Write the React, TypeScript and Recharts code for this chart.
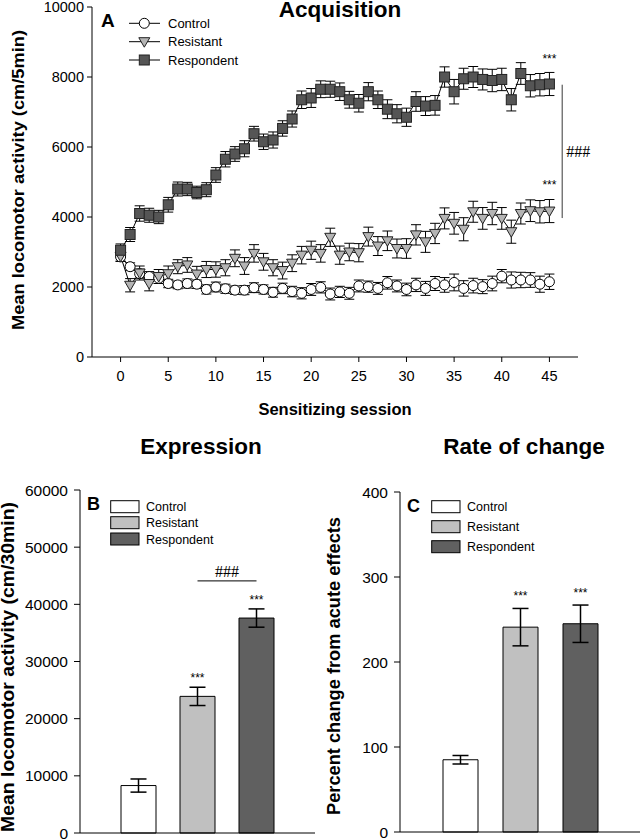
import React from "react";
import {
  Bar,
  BarChart,
  Cell,
  ErrorBar,
  LabelList,
  Line,
  LineChart,
  ReferenceDot,
  ReferenceLine,
  XAxis,
  YAxis,
} from "recharts";

const FONT = "'Liberation Sans', Arial, sans-serif";
const SERIF = "'Liberation Serif', 'Times New Roman', serif";

// ---- panel A: acquisition ----
const sessions = [
  0, 1, 2, 3, 4, 5, 6, 7, 8, 9, 10, 11, 12, 13, 14, 15, 16, 17, 18, 19, 20, 21, 22,
  23, 24, 25, 26, 27, 28, 29, 30, 31, 32, 33, 34, 35, 36, 37, 38, 39, 40, 41, 42,
  43, 44, 45,
];
const controlMean = [
  2860, 2580, 2380, 2300, 2250, 2100, 2060, 2100, 2080, 1930, 2000, 1950, 1910,
  1910, 1980, 1930, 1850, 1960, 1870, 1820, 1930, 1990, 1800, 1860, 1820, 2030,
  2010, 1960, 2120, 2030, 1930, 2060, 1960, 2100, 2060, 2130, 1960, 2040, 2010,
  2100, 2310, 2200, 2200, 2200, 2080, 2150,
];
const controlErr = [
  120, 110, 130, 140, 150, 120, 110, 130, 120, 130, 140, 130, 120, 130, 140, 130,
  140, 150, 150, 160, 170, 160, 170, 160, 170, 170, 160, 170, 180, 170, 180, 190,
  200, 200, 210, 240, 220, 210, 200, 210, 190, 230, 220, 210, 230, 220,
];
const resistantMean = [
  2880, 2050, 2400, 2100, 2300, 2380, 2580, 2630, 2370, 2500, 2500, 2550, 2820,
  2600, 2960, 2720, 2550, 2470, 2680, 2910, 3050, 2960, 3420, 2910, 3000, 2980,
  3440, 3170, 3320, 3100, 3100, 3490, 3290, 3530, 3960, 3820, 3650, 4150, 3960,
  4100, 3960, 3580, 4100, 4180, 4150, 4170,
];
const resistantErr = [
  150, 190, 200, 210, 200, 220, 200, 210, 220, 230, 220, 230, 240, 240, 250, 240,
  230, 240, 240, 250, 260, 250, 260, 260, 250, 260, 270, 270, 280, 270, 280, 290,
  300, 290, 300, 310, 330, 300, 310, 320, 310, 330, 300, 310, 320, 330,
];
const respondentMean = [
  3050, 3500, 4100, 4050, 4000, 4350, 4800, 4800, 4700, 4780, 5200, 5650, 5800,
  5950, 6380, 6150, 6200, 6530, 6800, 7350, 7400, 7650, 7650, 7580, 7350, 7250,
  7580, 7350, 7080, 6950, 6850, 7300, 7170, 7190, 8000, 7580, 7950, 8000, 7930,
  7900, 7930, 7350, 8100, 7750, 7780, 7800,
];
const respondentErr = [
  180, 200, 220, 200, 190, 210, 200, 190, 180, 200, 210, 220, 210, 230, 210, 220,
  230, 220, 230, 250, 270, 240, 230, 250, 240, 250, 260, 250, 270, 260, 260, 280,
  270, 280, 290, 350, 300, 300, 300, 320, 320, 320, 310, 320, 320, 330,
];
const xTicksA = [0, 5, 10, 15, 20, 25, 30, 35, 40, 45];
const yTicksA = [0, 2000, 4000, 6000, 8000, 10000];

// ---- panels B and C ----
const groups = ["Control", "Resistant", "Respondent"];
const groupFills = ["#ffffff", "#c0c0c0", "#606060"];
const expressionMean = [8300, 23900, 37600];
const expressionErr = [1150, 1600, 1600];
const rateMean = [85, 241, 245];
const rateErr = [5, 22, 22];
const groupSig = ["", "***", "***"];
const yTicksB = [0, 10000, 20000, 30000, 40000, 50000, 60000];
const yTicksC = [0, 100, 200, 300, 400];

const acqData = sessions.map((s, i) => ({
  session: s,
  control: controlMean[i],
  controlErr: controlErr[i],
  resistant: resistantMean[i],
  resistantErr: resistantErr[i],
  respondent: respondentMean[i],
  respondentErr: respondentErr[i],
}));
const exprData = groups.map((g, i) => ({ group: g, value: expressionMean[i], err: expressionErr[i] }));
const rateData = groups.map((g, i) => ({ group: g, value: rateMean[i], err: rateErr[i] }));

const circleDot = (p: any) => (
  <circle key={`c${p.index}`} cx={p.cx} cy={p.cy} r={5} fill="#fff" stroke="#000" strokeWidth={1} />
);
const triDot = (p: any) => (
  <polygon
    key={`t${p.index}`}
    points={`${p.cx - 5.5},${p.cy - 4} ${p.cx + 5.5},${p.cy - 4} ${p.cx},${p.cy + 5.5}`}
    fill="#b4b4b4"
    stroke="#222"
    strokeWidth={1}
  />
);
const squareDot = (p: any) => (
  <rect key={`s${p.index}`} x={p.cx - 5} y={p.cy - 5} width={10} height={10} fill="#555" stroke="#222" strokeWidth={1} />
);

const tickA = { fill: "#000", fontSize: 14.5, fontFamily: FONT };
const tickBC = { fill: "#000", fontSize: 15.5, fontFamily: FONT };

const sigLabel = (errs: number[], gap: number) => (p: any) => {
  const { x, y, width, height, value, index } = p;
  if (!groupSig[index]) return null;
  const errPx = (errs[index] / value) * height;
  return (
    <text key={`sig${index}`} x={x + width / 2} y={y - errPx - gap} textAnchor="middle" fontSize={12} fontFamily={FONT} fill="#000">
      {groupSig[index]}
    </text>
  );
};

function BarPanel({ data, errs, ticks, max, gap, pad, top, bottom, right, hash }: any) {
  return (
    <BarChart width={320} height={359} data={data} margin={{ top, right, bottom, left: 30 }}>
      <XAxis dataKey="group" tick={false} tickLine={false} stroke="#000" height={1} padding={{ left: pad, right: pad }} />
      <YAxis
        type="number"
        domain={[0, max]}
        ticks={ticks}
        width={50}
        tickSize={6}
        tickMargin={6}
        stroke="#000"
        tick={tickBC}
        interval={0}
      />
      <Bar dataKey="value" barSize={35} stroke="#000" strokeWidth={1} isAnimationActive={false}>
        {data.map((d: any, i: number) => (
          <Cell key={d.group} fill={groupFills[i]} />
        ))}
        <ErrorBar dataKey="err" width={8} stroke="#000" strokeWidth={1.5} />
        <LabelList content={sigLabel(errs, gap)} />
      </Bar>
      {hash ? (
        <ReferenceLine
          segment={[
            { x: "Resistant", y: hash },
            { x: "Respondent", y: hash },
          ]}
          stroke="#000"
          strokeWidth={1}
          label={{ value: "###", position: "top", fontSize: 16, fontFamily: SERIF, fill: "#000", offset: 4 }}
        />
      ) : null}
    </BarChart>
  );
}

function Legends() {
  const rowsA = [23.3, 41.7, 60];
  const rowsB = [506.7, 522.7, 539];
  const rowsC = [506.7, 526.7, 546.7];
  return (
    <svg width={640} height={839} style={{ position: "absolute", left: 0, top: 0, pointerEvents: "none" }}>
      <g fontFamily={FONT} fill="#000">
        {/* titles */}
        <text x={340} y={17} textAnchor="middle" fontSize={22.5} fontWeight="bold">Acquisition</text>
        <text x={201} y={453.5} textAnchor="middle" fontSize={22.5} fontWeight="bold">Expression</text>
        <text x={524} y={453.5} textAnchor="middle" fontSize={22.5} fontWeight="bold">Rate of change</text>
        {/* panel letters */}
        <text x={101} y={27} fontSize={19} fontWeight="bold">A</text>
        <text x={87} y={510} fontSize={18} fontWeight="bold">B</text>
        <text x={407} y={512} fontSize={18} fontWeight="bold">C</text>
        {/* axis labels */}
        <text x={335} y={415} textAnchor="middle" fontSize={16.5} fontWeight="bold">Sensitizing session</text>
        <text transform="translate(24,180) rotate(-90)" textAnchor="middle" fontSize={17} fontWeight="bold" textLength={300} lengthAdjust="spacingAndGlyphs">
          Mean locomotor activity (cm/5min)
        </text>
        <text transform="translate(14,667) rotate(-90)" textAnchor="middle" fontSize={18} fontWeight="bold" textLength={330} lengthAdjust="spacingAndGlyphs">
          Mean locomotor activity (cm/30min)
        </text>
        <text transform="translate(340,666) rotate(-90)" textAnchor="middle" fontSize={18} fontWeight="bold" textLength={298} lengthAdjust="spacingAndGlyphs">
          Percent change from acute effects
        </text>
        {/* legend A */}
        {groups.map((g, i) => {
          const y = rowsA[i];
          return (
            <g key={g}>
              <line x1={129} x2={160} y1={y} y2={y} stroke="#000" strokeWidth={1} />
              {i === 0 ? circleDot({ cx: 144.3, cy: y, index: 99 }) : i === 1 ? triDot({ cx: 144.3, cy: y, index: 99 }) : squareDot({ cx: 144.3, cy: y, index: 99 })}
              <text x={168} y={y + 4.7} fontSize={13}>{g}</text>
            </g>
          );
        })}
        {/* legend B */}
        {groups.map((g, i) => (
          <g key={`b${g}`}>
            <rect x={110.7} y={rowsB[i] - 6} width={28.3} height={12} fill={groupFills[i]} stroke="#000" strokeWidth={1} />
            <text x={146} y={rowsB[i] + 4.5} fontSize={12.5}>{g}</text>
          </g>
        ))}
        {/* legend C */}
        {groups.map((g, i) => (
          <g key={`c${g}`}>
            <rect x={431.7} y={rowsC[i] - 6} width={28.3} height={12} fill={groupFills[i]} stroke="#000" strokeWidth={1} />
            <text x={467} y={rowsC[i] + 4.5} fontSize={12.5}>{g}</text>
          </g>
        ))}
      </g>
    </svg>
  );
}

export default function App() {
  return (
    <div style={{ position: "absolute", left: 0, top: 0, width: 640, height: 839, background: "#fff", overflow: "hidden" }}>
      <div style={{ position: "absolute", left: 0, top: 0 }}>
        <LineChart width={640} height={420} data={acqData} margin={{ top: 7, right: 62, bottom: 33, left: 32 }}>
          <XAxis
            dataKey="session"
            type="number"
            domain={[-3, 48]}
            ticks={xTicksA}
            tickSize={5}
            tickMargin={9}
            stroke="#000"
            tick={tickA}
            height={30}
            allowDataOverflow
            interval={0}
          />
          <YAxis
            type="number"
            domain={[0, 10000]}
            ticks={yTicksA}
            width={60}
            tickSize={5}
            tickMargin={3}
            stroke="#000"
            tick={tickA}
            interval={0}
          />
          <Line dataKey="control" stroke="#000" strokeWidth={1} dot={circleDot} activeDot={false} isAnimationActive={false}>
            <ErrorBar dataKey="controlErr" width={5} stroke="#000" strokeWidth={1} />
          </Line>
          <Line dataKey="resistant" stroke="#000" strokeWidth={1} dot={triDot} activeDot={false} isAnimationActive={false}>
            <ErrorBar dataKey="resistantErr" width={5} stroke="#000" strokeWidth={1} />
          </Line>
          <Line dataKey="respondent" stroke="#000" strokeWidth={1} dot={squareDot} activeDot={false} isAnimationActive={false}>
            <ErrorBar dataKey="respondentErr" width={5} stroke="#000" strokeWidth={1} />
          </Line>
          <ReferenceLine
            segment={[
              { x: 46.35, y: 3970 },
              { x: 46.35, y: 7780 },
            ]}
            stroke="#777"
            strokeWidth={1.5}
            label={{ value: "###", position: "right", fontSize: 16, fontFamily: SERIF, fill: "#000", offset: 4 }}
          />
          <ReferenceDot x={45} y={8520} r={0} fill="none" stroke="none" label={{ value: "***", position: "center", fontSize: 12, fontFamily: FONT, fill: "#000" }} />
          <ReferenceDot x={45} y={4920} r={0} fill="none" stroke="none" label={{ value: "***", position: "center", fontSize: 12, fontFamily: FONT, fill: "#000" }} />
        </LineChart>
      </div>
      <div style={{ position: "absolute", left: 0, top: 480 }}>
        <BarPanel data={exprData} errs={expressionErr} ticks={yTicksB} max={60000} gap={5} pad={29} top={10} bottom={5} right={5} hash={44100} />
      </div>
      <div style={{ position: "absolute", left: 320, top: 480 }}>
        <BarPanel data={rateData} errs={rateErr} ticks={yTicksC} max={400} gap={8.5} pad={30} top={12} bottom={6} right={0} hash={0} />
      </div>
      <Legends />
    </div>
  );
}
